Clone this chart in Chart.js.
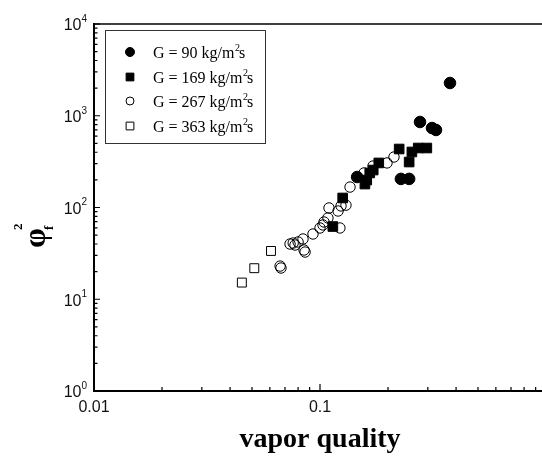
<!DOCTYPE html>
<html>
<head>
<meta charset="utf-8">
<script src="https://cdn.jsdelivr.net/npm/chart.js@4/dist/chart.umd.min.js"></script>
<style>
html, body { margin: 0; padding: 0; background: #fff; overflow: hidden; }
canvas { display: block; }
</style>
</head>
<body>
<canvas id="chart" width="560" height="460"></canvas>
<script>
// two-phase multiplier vs vapor quality, one series per mass flux
const g90Quality = [0.376, 0.277, 0.313, 0.326, 0.228, 0.248, 0.146];
const g90Phi = [2275, 855, 735, 700, 205, 205, 215];

const g169Quality = [0.224, 0.255, 0.272, 0.297, 0.248, 0.182, 0.172, 0.166, 0.161, 0.158, 0.126, 0.114];
const g169Phi = [434, 403, 445, 445, 313, 306, 256, 238, 199, 180, 127, 62];

const g267Quality = [0.0666, 0.0672, 0.0737, 0.0761, 0.0775, 0.0800, 0.0841, 0.0850, 0.0859, 0.0931, 0.1000, 0.1031,
    0.1042, 0.1084, 0.1096, 0.1202, 0.1225, 0.1239, 0.1303, 0.1358, 0.1566, 0.1716, 0.1979, 0.2125];
const g267Phi = [23.0, 21.9, 40.0, 41.0, 39.0, 42.1, 45.4, 34.4, 32.7, 51.4, 59.8, 64.5,
    69.5, 76.9, 98.8, 91.6, 59.8, 104, 106, 167, 238, 283, 306, 355];

const g363Quality = [0.0451, 0.0512, 0.0607];
const g363Phi = [15.2, 21.8, 33.6];

const seriesLabels = ["G = 90 kg/m²s", "G = 169 kg/m²s", "G = 267 kg/m²s", "G = 363 kg/m²s"];

const xTickValues = [0.01, 0.1, 1];
const xTickLabels = ["0.01", "0.1", "1"];
const yTickValues = [1, 10, 100, 1000, 10000];
const yTickExponents = ["0", "1", "2", "3", "4"];

const xTitle = "vapor quality";

const SANS = '"Liberation Sans", Arial, sans-serif';
const SERIF = '"Liberation Serif", "Times New Roman", serif';

function toPoints(xs, ys) {
    return xs.map((x, i) => ({x: x, y: ys[i]}));
}

const markers = [
    {style: "circle", radius: 5.8, fill: "#000", legendRadius: 4.5},
    {style: "rect", radius: 6.8, fill: "#000", legendRadius: 5.5},
    {style: "circle", radius: 5.2, fill: "rgba(0,0,0,0)", legendRadius: 4},
    {style: "rect", radius: 6.3, fill: "#fff", legendRadius: 5.5},
];

function drawMarker(ctx, m, x, y) {
    ctx.beginPath();
    if (m.style === "circle") {
        ctx.arc(x, y, m.legendRadius, 0, Math.PI * 2);
    } else {
        const h = m.legendRadius * Math.SQRT1_2;
        ctx.rect(x - h, y - h, 2 * h, 2 * h);
    }
    ctx.fillStyle = m.fill;
    ctx.fill();
    ctx.lineWidth = 1;
    ctx.strokeStyle = "#000";
    ctx.stroke();
}

function drawLegendText(ctx, text, x, yMid) {
    const parts = text.split("²");
    const base = yMid + 5.5;
    ctx.fillStyle = "#000";
    ctx.textAlign = "left";
    ctx.textBaseline = "alphabetic";
    ctx.font = "16px " + SERIF;
    ctx.fillText(parts[0], x, base);
    let cx = x + ctx.measureText(parts[0]).width;
    ctx.font = "10px " + SERIF;
    ctx.fillText("2", cx + 0.5, base - 7);
    cx += ctx.measureText("2").width - 0.5;
    ctx.font = "16px " + SERIF;
    ctx.fillText(parts[1], cx, base);
}

const framePlugin = {
    id: "frame",
    afterDraw(chart) {
        const ctx = chart.ctx;
        const a = chart.chartArea;
        const xs = chart.scales.x;
        const ys = chart.scales.y;
        ctx.save();
        ctx.strokeStyle = "#000";

        // frame
        ctx.lineWidth = 1.5;
        ctx.beginPath();
        ctx.moveTo(a.left, a.top);
        ctx.lineTo(a.right, a.top);
        ctx.lineTo(a.right, a.bottom);
        ctx.stroke();
        ctx.lineWidth = 2;
        ctx.beginPath();
        ctx.moveTo(a.left, a.top - 1);
        ctx.lineTo(a.left, a.bottom);
        ctx.lineTo(a.right, a.bottom);
        ctx.stroke();

        // inward ticks, majors and minors
        ctx.lineWidth = 1.2;
        ctx.beginPath();
        yTickValues.forEach((v, i) => {
            const py = ys.getPixelForValue(v);
            ctx.moveTo(a.left, py);
            ctx.lineTo(a.left + 6, py);
            if (i < yTickValues.length - 1) {
                for (let k = 2; k < 10; k++) {
                    const pm = ys.getPixelForValue(v * k);
                    ctx.moveTo(a.left, pm);
                    ctx.lineTo(a.left + 3.5, pm);
                }
            }
        });
        xTickValues.forEach((v, i) => {
            const px = xs.getPixelForValue(v);
            ctx.moveTo(px, a.bottom);
            ctx.lineTo(px, a.bottom - 7);
            if (i < xTickValues.length - 1) {
                for (let k = 2; k < 10; k++) {
                    const pm = xs.getPixelForValue(v * k);
                    ctx.moveTo(pm, a.bottom);
                    ctx.lineTo(pm, a.bottom - 4);
                }
            }
        });
        ctx.stroke();

        // tick labels
        ctx.fillStyle = "#111";
        ctx.textBaseline = "middle";
        ctx.textAlign = "center";
        ctx.font = "16px " + SANS;
        xTickValues.forEach((v, i) => {
            ctx.fillText(xTickLabels[i], xs.getPixelForValue(v), a.bottom + 17);
        });
        yTickValues.forEach((v, i) => {
            const py = ys.getPixelForValue(v) + 2;
            ctx.font = "10px " + SANS;
            ctx.textAlign = "right";
            const ew = ctx.measureText(yTickExponents[i]).width;
            ctx.fillText(yTickExponents[i], a.left - 7, py - 7);
            ctx.font = "16px " + SANS;
            ctx.fillText("10", a.left - 7 - ew, py);
        });

        // axis titles
        ctx.fillStyle = "#000";
        ctx.textAlign = "center";
        ctx.textBaseline = "alphabetic";
        ctx.font = "bold 28px " + SERIF;
        ctx.fillText(xTitle, (a.left + a.right) / 2, 447);

        ctx.save();
        ctx.translate(45, 248);
        ctx.rotate(-Math.PI / 2);
        ctx.textAlign = "left";
        ctx.font = "bold 32px " + SERIF;
        ctx.fillText("φ", 0, 0);
        const pw = ctx.measureText("φ").width;
        ctx.font = "bold 13px " + SERIF;
        ctx.fillText("2", pw - 2, -23);
        ctx.fillText("f", pw - 2, 8);
        ctx.restore();

        // legend
        const lx = 105, ly = 30, lw = 160, lh = 113;
        ctx.fillStyle = "#fff";
        ctx.fillRect(lx, ly, lw, lh);
        ctx.lineWidth = 1;
        ctx.strokeStyle = "#333";
        ctx.strokeRect(lx + 0.5, ly + 0.5, lw, lh);
        const rows = [52, 77, 101, 126];
        chart.data.datasets.forEach((ds, i) => {
            drawMarker(ctx, markers[i], 130, rows[i]);
            drawLegendText(ctx, ds.label, 153, rows[i]);
        });
        ctx.restore();
    }
};

const seriesData = [
    toPoints(g90Quality, g90Phi),
    toPoints(g169Quality, g169Phi),
    toPoints(g267Quality, g267Phi),
    toPoints(g363Quality, g363Phi),
];

new Chart(document.getElementById("chart"), {
    type: "scatter",
    data: {
        datasets: seriesData.map((pts, i) => ({
            label: seriesLabels[i],
            data: pts,
            pointStyle: markers[i].style,
            pointRadius: markers[i].radius,
            pointHoverRadius: markers[i].radius,
            backgroundColor: markers[i].fill,
            borderColor: "#000",
            borderWidth: 1,
        }))
    },
    options: {
        responsive: false,
        animation: false,
        layout: {padding: {left: 94, top: 24, right: 14, bottom: 69}},
        scales: {
            x: {type: "logarithmic", min: 0.01, max: 1, display: false},
            y: {type: "logarithmic", min: 1, max: 10000, display: false},
        },
        plugins: {
            legend: {display: false},
            tooltip: {enabled: false},
        },
    },
    plugins: [framePlugin],
});
</script>
</body>
</html>
